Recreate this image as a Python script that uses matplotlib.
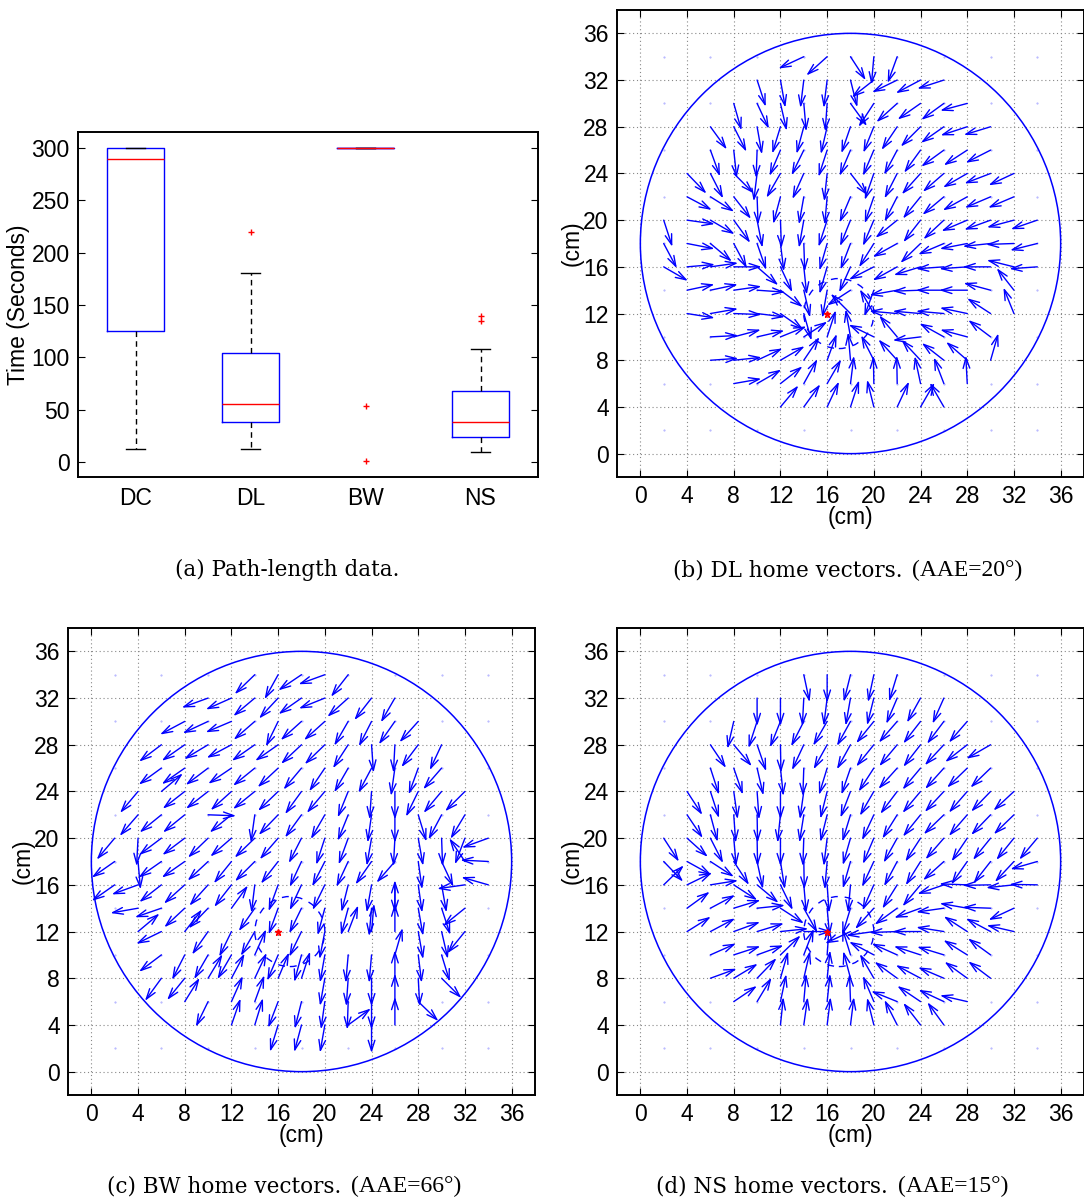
import numpy as np
import matplotlib
matplotlib.use('Agg')
import matplotlib.pyplot as plt
from matplotlib.patches import Circle

plt.rcParams['font.family'] = ['Liberation Sans', 'DejaVu Sans']

# ---- panel (a): path-length boxplot summary ----
groups = ['DC', 'DL', 'BW', 'NS']
q1 = [125, 38, 300, 24]
medians = [289, 56, 300, 38]
q3 = [300, 104, 300, 68]
whis_lo = [13, 13, 300, 10]
whis_hi = [300, 181, 300, 108]
outliers = [[], [220], [54, 1], [135, 140]]

# ---- home vector fields: (row y, first x, angles in degrees, one per 2 cm) ----
dl_rows = [
    (34, 14, [205, 222, 303, 265, 250]),
    (32, 10, [288, 280, 263, 263, 284, 218, 206, 208, 198]),
    (30, 8, [286, 295, 283, 275, 266, 306, 237, 222, 215, 216, 195]),
    (28, 6, [306, 297, 280, 253, 255, 257, 251, 248, 236, 225, 215, 198, 197]),
    (26, 6, [290, 276, 268, 247, 244, 252, 247, 247, 242, 234, 216, 213, 207]),
    (24, 4, [314, 297, 315, 263, 240, 246, 264, 308, 251, 243, 228, 221, 210, 201, 205]),
    (22, 4, [332, 328, 308, 272, 255, 260, 265, 247, 251, 243, 231, 220, 209, 203, 203]),
    (20, 2, [288, 352, 330, 306, 281, 272, 260, 252, 248, 247, 219, 232, 223, 203, 200, 195, 199]),
    (18, 2, [298, 349, 320, 298, 289, 277, 272, 254, 249, 238, 209, 224, 203, 191, 186, 182, 194]),
    (16, 2, [330, 5, 8, 0, 319, 295, 276, 254, 246, 207, 209, 197, 184, 184, 180, 166, 184]),
    (14, 4, [12, 12, 8, 356, 323, 283, 260, 213, 250, 190, 182, 180, 180, 165, 128]),
    (12, 4, [351, 10, 358, 353, 325, 286, None, 135, 120, 175, 175, 175, 168, 147, 112]),
    (10, 6, [3, 15, 13, 22, 33, 72, 100, 154, 130, 187, 151, 165, 143]),
    (8, 6, [4, 6, 25, 30, 56, 70, 95, 117, 132, 133, 142, 139, 74]),
    (6, 8, [10, 30, 38, 61, 60, 83, 91, 91, 102, 111, 93]),
    (4, 12, [50, 54, 65, 72, 104, 65, 60, 120]),
]

bw_rows = [
    (34, 14, [224, 241, 214, 200, 232]),
    (32, 10, [200, 204, 220, 227, 215, 202, 222, 232, 240]),
    (30, 8, [208, 205, 203, 221, 244, 222, 222, 240, 243, 235, 228]),
    (28, 6, [217, 215, 211, 208, 215, 215, 223, 224, 237, 274, 267, 233, 245]),
    (26, 6, [216, 215, 217, 214, 219, 223, 230, 236, 240, 242, 262, 250, 229]),
    (24, 4, [230, 40, 218, 218, 222, 219, 224, 234, 230, 248, 266, 270, 244, 230, 225]),
    (22, 4, [229, 219, 219, 358, 219, 262, 226, 234, 240, 248, 262, 270, 287, 242, 239]),
    (20, 2, [230, 267, 217, 217, 224, 221, 224, 229, 243, 252, 250, 260, 267, 280, 272, 249, 200]),
    (18, 2, [215, 275, 215, 215, 223, 231, 225, 232, 245, 243, 245, 235, 229, 278, 295, 124, 177]),
    (16, 2, [215, 200, 218, 222, 228, 232, 263, 250, 245, 244, 256, 260, 270, 278, 280, 188, 164]),
    (14, 4, [190, 199, 223, 226, 54, 235, 250, 244, 255, 255, 265, 90, 280, 288, 219]),
    (12, 4, [40, 206, 52, 235, 244, 240, None, 244, 259, 69, 85, 90, 280, 283, 231]),
    (10, 6, [217, 243, 240, 240, 66, 247, 255, 260, 265, 265, 74, 277, 287]),
    (8, 6, [234, 231, 59, 62, 65, 67, 72, 260, 266, 270, 90, 273, 315]),
    (6, 8, [58, 244, 66, 70, 249, 256, 262, 268, 270, 90, 316]),
    (4, 12, [71, 73, 253, 255, 260, 36, 270, 90]),
]

ns_rows = [
    (34, 14, [282, 270, 256, 258, 253]),
    (32, 10, [270, 270, 267, 263, 260, 256, 247, 241, 246]),
    (30, 8, [257, 252, 248, 243, 240, 241, 231, 229, 232, 233, 229]),
    (28, 6, [304, 310, 289, 271, 245, 241, 241, 231, 230, 232, 227, 218, 210]),
    (26, 6, [288, 289, 283, 276, 268, 253, 251, 237, 228, 230, 228, 224, 224]),
    (24, 4, [303, 288, 278, 274, 270, 262, 256, 249, 240, 233, 230, 227, 229, 226, 223]),
    (22, 4, [304, 285, 274, 271, 264, 261, 256, 253, 245, 238, 231, 224, 229, 226, 224]),
    (20, 2, [303, 318, 297, 275, 271, 270, 268, 263, 254, 247, 241, 237, 229, 236, 231, 231, 230]),
    (18, 2, [314, 331, 327, 303, 282, 279, 271, 265, 254, 245, 242, 238, 222, 235, 232, 227, 196]),
    (16, 2, [44, 26, 9, 327, 320, 296, 275, 274, 265, 246, 238, 230, 199, 178, 181, 186, 179]),
    (14, 4, [36, 28, 17, 6, 327, 299, 275, 253, 228, 216, 200, 188, 170, 178, 205]),
    (12, 4, [32, 28, 20, 17, 6, 0, None, 205, 188, 182, 180, 171, 147, 152, 167]),
    (10, 6, [24, 18, 20, 44, 69, 86, 107, 152, 156, 162, 163, 148, 144]),
    (8, 6, [20, 31, 46, 74, 77, 84, 105, 120, 144, 152, 157, 144, 143]),
    (6, 8, [34, 59, 78, 85, 84, 92, 113, 158, 146, 155, 167]),
    (4, 12, [84, 82, 83, 83, 104, 117, 128, 126]),
]

arrow_len = 2.4          # cm
home = (16, 12)
arena_center, arena_r = (18, 18), 18
catch_center, catch_r = (17, 12), 3
dot_xs = [2, 6, 10, 14, 18, 22, 26, 30, 34]
dot_ys = [2, 6, 10, 14, 18, 22, 26, 30, 34]
cm_ticks = list(range(0, 37, 4))

captions = [
    ('(a) Path-length data.', None),
    ('(b) DL home vectors.', '(AAE=20°)'),
    ('(c) BW home vectors.', '(AAE=66°)'),
    ('(d) NS home vectors.', '(AAE=15°)'),
]

W, H = 1084, 1200
fig = plt.figure(figsize=(W / 100, H / 100), dpi=100)


def style_axes(ax):
    for s in ax.spines.values():
        s.set_linewidth(1.4)
    ax.tick_params(direction='in', length=5, width=0.8, labelsize=16.5,
                   top=True, right=True, pad=6)


# (a) boxplot
ax = fig.add_axes([78 / W, 1 - 477 / H, 460 / W, 345 / H])
stats = []
for i, g in enumerate(groups):
    stats.append(dict(label=g, med=medians[i], q1=q1[i], q3=q3[i],
                      whislo=whis_lo[i], whishi=whis_hi[i], fliers=outliers[i]))
ax.bxp(stats, widths=0.5, capwidths=0.17,
       boxprops=dict(color='#0000ff', lw=1.0),
       medianprops=dict(color='#ff0000', lw=1.0),
       whiskerprops=dict(color='black', lw=1.0, linestyle=(0, (4, 3))),
       capprops=dict(color='black', lw=1.0),
       flierprops=dict(marker='+', markeredgecolor='#ff0000', markersize=4, markeredgewidth=1.0))
ax.set_xlim(0.5, 4.5)
ax.set_ylim(-14, 315)
ax.set_yticks([0, 50, 100, 150, 200, 250, 300])
ax.set_ylabel('Time (Seconds)', fontsize=16.5, labelpad=1)
style_axes(ax)
ax.tick_params(axis='x', length=0, pad=7)


def vector_panel(rect, rows):
    ax = fig.add_axes(rect)
    ax.set_xlim(-2, 38)
    ax.set_ylim(-2, 38)
    ax.set_xticks(cm_ticks)
    ax.set_yticks(cm_ticks)
    ax.grid(True, linestyle=(0, (1, 2.5)), color='#888888', lw=0.8)
    ax.set_axisbelow(True)
    gx, gy = np.meshgrid(dot_xs, dot_ys)
    ax.plot(gx.ravel(), gy.ravel(), '.', ms=1.0, color='#aaaaff', zorder=1)
    ax.add_patch(Circle(arena_center, arena_r, fill=False, ec='#0000ff', lw=1.1, zorder=2))
    ax.add_patch(Circle(catch_center, catch_r, fill=False, ec='#0000ff', lw=1.0,
                        linestyle=(0, (5, 5)), zorder=2))
    for y, x0, angs in rows:
        for i, a in enumerate(angs):
            if a is None:
                continue
            x = x0 + 2 * i
            t = np.radians(a)
            ax.annotate('', xy=(x + arrow_len * np.cos(t), y + arrow_len * np.sin(t)),
                        xytext=(x, y),
                        arrowprops=dict(arrowstyle='->,head_length=0.75,head_width=0.24',
                                        color='#0000ff', lw=1.0, shrinkA=0, shrinkB=0))
    ax.plot(*home, marker='*', color='#ff0000', ms=5, zorder=5)
    ax.set_xlabel('(cm)', fontsize=16.5, labelpad=-2)
    ax.set_ylabel('(cm)', fontsize=16.5, labelpad=0)
    style_axes(ax)
    return ax


vector_panel([617 / W, 1 - 477 / H, 467 / W, 467 / H], dl_rows)
vector_panel([68 / W, 1 - 1095 / H, 467 / W, 467 / H], bw_rows)
vector_panel([617 / W, 1 - 1095 / H, 467 / W, 467 / H], ns_rows)

# captions
serif = ['DejaVu Serif']
fig.text(287 / W, 1 - 570 / H, captions[0][0], ha='center', va='center',
         fontsize=15.5, family=serif)
cap_pos = [(907, 570), (346, 1186), (893, 1186)]
for (main, extra), (cx, cy) in zip(captions[1:], cap_pos):
    fig.text((cx - 5) / W, 1 - cy / H, main, ha='right', va='center',
             fontsize=15.5, family=serif)
    fig.text((cx + 5) / W, 1 - cy / H, extra, ha='left', va='center',
             fontsize=17, family=['Liberation Serif'])

fig.savefig('out.png', dpi=100)
